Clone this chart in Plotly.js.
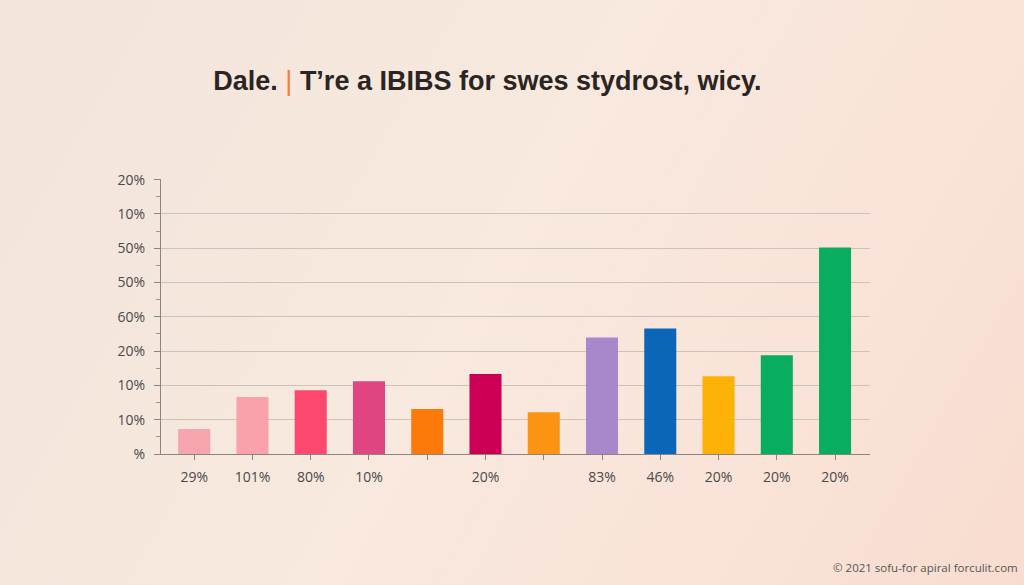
<!DOCTYPE html>
<html>
<head>
<meta charset="utf-8">
<script src="https://cdn.plot.ly/plotly-3.0.1.min.js"></script>
<style>
  html, body { margin:0; padding:0; width:1024px; height:585px; overflow:hidden;
    background: linear-gradient(120deg, #f2e4da 0%, #f8e9df 45%, #fae3d8 75%, #f8dccf 100%); }
  #chart { width:1024px; height:585px; }
</style>
</head>
<body>
<div id="chart"></div>
<script>
const categories = ["c1","c2","c3","c4","c5","c6","c7","c8","c9","c10","c11","c12"];
const values = [0.73, 1.66, 1.86, 2.12, 1.31, 2.33, 1.22, 3.40, 3.66, 2.27, 2.88, 6.02];
const barColors = ["#f6a5ae","#f9a2ab","#fc476e","#df4580","#fb7a0a","#cb0055","#fb9413","#a887cb","#0b66b7","#fcb106","#08ad5f","#08ad5f"];
const xTickLabels = ["29%","101%","80%","10%","","20%","","83%","46%","20%","20%","20%"];
const yTickVals = [0,1,2,3,4,5,6,7,8];
const yTickLabels = ["%","10%","10%","20%","60%","50%","50%","10%","20%"];
const titleText = 'Dale. <span style="color:#f07d3a;font-weight:normal">|</span> T’re a IBIBS for swes stydrost, wicy.';
const footerText = "© 2021 sofu-for apiral forculit.com";

const trace = {
  type: "bar",
  x: categories,
  y: values,
  marker: { color: barColors, line: { width: 0 } },
  width: 0.55,
  hoverinfo: "none"
};

const layout = {
  width: 1024, height: 585,
  margin: { l: 161, r: 154, t: 179, b: 131 },
  paper_bgcolor: "rgba(0,0,0,0)",
  plot_bgcolor: "rgba(0,0,0,0)",
  showlegend: false,
  font: { family: "Open Sans, Noto Sans, sans-serif", color: "#444" },
  title: {
    text: "<b>" + titleText + "</b>",
    x: 0.476, xanchor: "center", y: 0.863, yanchor: "middle",
    font: { family: "Liberation Sans, Arial, sans-serif", size: 27, color: "#2a2522" }
  },
  xaxis: {
    type: "category",
    range: [-0.57, 11.6],
    tickmode: "array",
    tickvals: categories,
    ticktext: xTickLabels,
    showline: true, linecolor: "#8a8580", linewidth: 1,
    ticks: "outside", ticklen: 5, tickcolor: "#8a8580",
    ticklabelstandoff: 5,
    showgrid: false,
    tickfont: { size: 14, color: "#4a4a4a" },
    fixedrange: true
  },
  yaxis: {
    range: [0, 8.02],
    tickmode: "array",
    tickvals: yTickVals,
    ticktext: yTickLabels,
    showline: true, linecolor: "#8a8580", linewidth: 1,
    ticks: "outside", ticklen: 6, tickcolor: "#8a8580",
    minor: { dtick: 0.5, tick0: 0, ticks: "outside", ticklen: 4, tickcolor: "#9a9590", showgrid: false },
    showgrid: true, gridcolor: "#cac2bc", gridwidth: 1,
    zeroline: false,
    ticklabelstandoff: 6,
    tickfont: { size: 14, color: "#4a4a4a" },
    fixedrange: true
  },
  annotations: [{
    text: footerText, xref: "paper", yref: "paper",
    x: 1.2116, y: -0.411, xanchor: "right", yanchor: "middle",
    showarrow: false,
    font: { family: "Open Sans, Noto Sans, sans-serif", size: 11.5, color: "#555" }
  }]
};

Plotly.newPlot("chart", [trace], layout, { displayModeBar: false, staticPlot: true });
</script>
</body>
</html>
